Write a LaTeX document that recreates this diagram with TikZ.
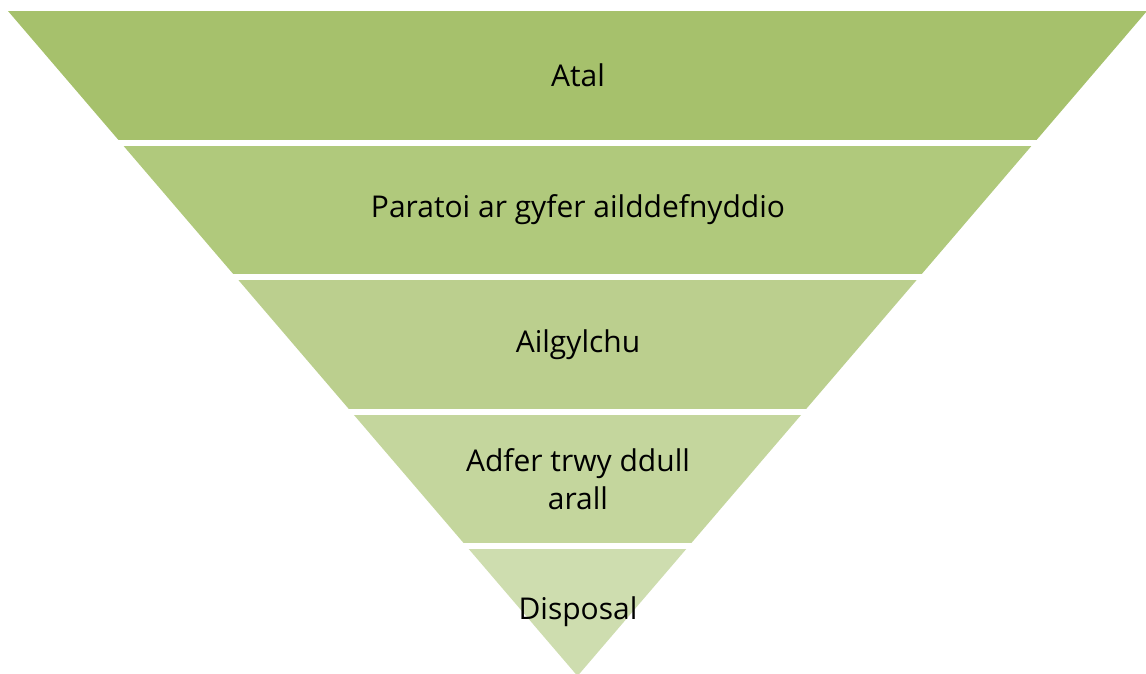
\documentclass[tikz,border=0pt]{standalone}
\usepackage{fontspec}
\setmainfont{Open Sans}
\definecolor{bandA}{HTML}{A6C16C}
\definecolor{bandB}{HTML}{B0C97C}
\definecolor{bandC}{HTML}{BBCF8E}
\definecolor{bandD}{HTML}{C4D69D}
\definecolor{bandE}{HTML}{CEDDAF}
\begin{document}
\begin{tikzpicture}[x=1pt,y=-1pt,
  lbl/.style={font=\fontsize{30}{38}\selectfont, text=black, align=center, inner sep=0pt}]
\useasboundingbox (0,0) rectangle (1146,673);
\begin{scope}
  \clip (0,0) rectangle (1146,673);
  \clip (8,11) -- (1147,11) -- (577.5,676) -- cycle;
  \fill[bandA] (0,11) rectangle (1146,140);
  \fill[bandB] (0,146) rectangle (1146,274);
  \fill[bandC] (0,280) rectangle (1146,409);
  \fill[bandD] (0,415) rectangle (1146,543);
  \fill[bandE] (0,549) rectangle (1146,690);
\end{scope}
\node[lbl] (atal) at (578,75.5) {Atal};
\node[lbl] (paratoi) at (578,210) {Paratoi ar gyfer ailddefnyddio};
\node[lbl] (ailgylchu) at (578,344.5) {Ailgylchu};
\node[lbl] (adfer) at (578,479) {Adfer trwy ddull\\arall};
\node[lbl] (disposal) at (578,612) {Disposal};
\end{tikzpicture}
\end{document}
